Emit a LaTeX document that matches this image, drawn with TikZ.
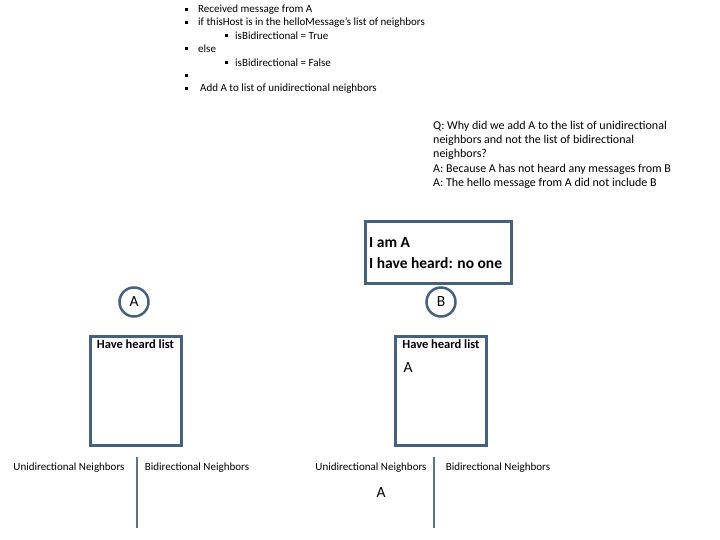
\documentclass[tikz,border=0pt]{standalone}
\usepackage{fontspec}
\setmainfont{Carlito}
\definecolor{boxblue}{HTML}{46607F}
\definecolor{linegray}{HTML}{5F6F85}
\begin{document}
\begin{tikzpicture}[x=1pt,y=-1pt,
  bul/.style={fill=black,inner sep=0pt,minimum size=3pt},
  txt/.style={anchor=west,inner sep=0pt,font=\fontsize{11}{13}\selectfont},
  qtxt/.style={anchor=west,inner sep=0pt,font=\fontsize{12}{14}\selectfont},
  listbox/.style={draw=boxblue,line width=3pt,minimum width=91pt,minimum height=109pt,inner sep=0pt},
  hostcirc/.style={circle,draw=boxblue,line width=2.5pt,minimum size=29pt,inner sep=0pt,font=\fontsize{15.5}{17}\selectfont},
  lab/.style={anchor=center,inner sep=0pt,font=\fontsize{11}{13}\selectfont},
  msgtxt/.style={anchor=west,inner sep=0pt,font=\bfseries\fontsize{15.5}{17}\selectfont},
  sep/.style={draw=linegray,line width=1.2pt}]
\useasboundingbox (0,0) rectangle (720,540);
% bullet list
\node[bul] (b1) at (186,10) {};
\node[txt] (t1) at (198,10) {Received message from A};
\node[bul] (b2) at (186,23) {};
\node[txt] (t2) at (198,23) {if thisHost is in the helloMessage’s list of neighbors};
\node[bul] (b3) at (226,36) {};
\node[txt] (t3) at (235,36) {isBidirectional = True};
\node[bul] (b4) at (186,49) {};
\node[txt] (t4) at (198,49) {else};
\node[bul] (b5) at (226,63) {};
\node[txt] (t5) at (235,63) {isBidirectional = False};
\node[bul] (b6) at (186,76) {};
\node[bul] (b7) at (186,89) {};
\node[txt] (t7) at (200,89) {Add A to list of unidirectional neighbors};
% Q/A text
\node[qtxt] (q1) at (433,126) {Q: Why did we add A to the list of unidirectional};
\node[qtxt] (q2) at (433,140) {neighbors and not the list of bidirectional};
\node[qtxt] (q3) at (433,154) {neighbors?};
\node[qtxt] (q4) at (433,169) {A: Because A has not heard any messages from B};
\node[qtxt] (q5) at (433,183) {A: The hello message from A did not include B};
% message box
\node[draw=boxblue,line width=3pt,minimum width=146pt,minimum height=61pt,inner sep=0pt] (msg) at (438,252.5) {};
\node[msgtxt] (m1) at (369,243) {I am A};
\node[msgtxt] (m2) at (369,263) {I have heard: no one};
% hosts
\node[hostcirc] (A) at (134,302) {A};
\node[hostcirc] (B) at (441,302) {B};
% have heard lists
\node[listbox] (LA) at (135.5,390.5) {};
\node[anchor=north,inner sep=0pt,font=\bfseries\fontsize{12.5}{14}\selectfont] (LAt) at (135.5,339.5) {Have heard list};
\node[listbox] (LB) at (441,390.5) {};
\node[anchor=north,inner sep=0pt,font=\bfseries\fontsize{12.5}{14}\selectfont] (LBt) at (441,339.5) {Have heard list};
\node[anchor=center,inner sep=0pt,font=\fontsize{15.5}{17}\selectfont] (LBa) at (408,368) {A};
% neighbor tables
\node[lab] (uA) at (69,468) {Unidirectional Neighbors};
\node[lab] (bA) at (197,468) {Bidirectional Neighbors};
\coordinate (sAt) at (137,457);
\coordinate (sAb) at (137,528);
\draw[sep] (sAt) -- (sAb);
\node[lab] (uB) at (371,468) {Unidirectional Neighbors};
\node[lab] (bB) at (498,468) {Bidirectional Neighbors};
\coordinate (sBt) at (434,457);
\coordinate (sBb) at (434,528);
\draw[sep] (sBt) -- (sBb);
\node[anchor=center,inner sep=0pt,font=\fontsize{15.5}{17}\selectfont] (uBa) at (381,493) {A};
\end{tikzpicture}
\end{document}
